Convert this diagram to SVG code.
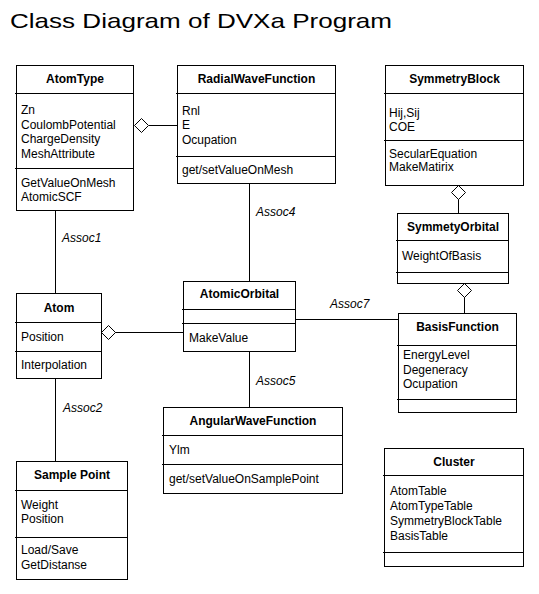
<svg xmlns="http://www.w3.org/2000/svg" width="539" height="594" viewBox="0 0 539 594">
<style>
.box{fill:#fff;stroke:#000;stroke-width:1}
.ln{stroke:#000;stroke-width:1;fill:none}
.dia{fill:#fff;stroke:#000;stroke-width:1}
text{font-family:"Liberation Sans",Arial,sans-serif;font-size:12px;fill:#000}
.h{font-weight:bold;text-anchor:middle}
.lbl{font-style:italic}
.title{font-size:21px}
</style>
<rect width="539" height="594" fill="#fff"/>
<text class="title" x="10" y="28" textLength="382" lengthAdjust="spacingAndGlyphs">Class Diagram of DVXa Program</text>

<g id="connectors">
<line class="ln" x1="55.5" y1="211" x2="55.5" y2="293"/>
<line class="ln" x1="55.5" y1="378" x2="55.5" y2="461"/>
<line class="ln" x1="249.5" y1="184" x2="249.5" y2="281"/>
<line class="ln" x1="249.5" y1="351" x2="249.5" y2="407"/>
<line class="ln" x1="149" y1="125.5" x2="177" y2="125.5"/>
<polygon class="dia" points="134.5,125.5 141.5,118.5 148.5,125.5 141.5,132.5"/>
<line class="ln" x1="115" y1="332.5" x2="183" y2="332.5"/>
<polygon class="dia" points="101.5,332.5 108.5,325.5 115.5,332.5 108.5,339.5"/>
<line class="ln" x1="295" y1="319.5" x2="399" y2="319.5"/>
<line class="ln" x1="458.5" y1="199" x2="458.5" y2="213"/>
<polygon class="dia" points="458.5,185.5 465.5,192.5 458.5,199.5 451.5,192.5"/>
<line class="ln" x1="464.5" y1="297" x2="464.5" y2="313"/>
<polygon class="dia" points="464.5,283.5 471.5,290.5 464.5,297.5 457.5,290.5"/>
<text class="lbl" x="62" y="242">Assoc1</text>
<text class="lbl" x="63" y="412">Assoc2</text>
<text class="lbl" x="256" y="216">Assoc4</text>
<text class="lbl" x="256" y="385">Assoc5</text>
<text class="lbl" x="330" y="308">Assoc7</text>
</g>

<g id="AtomType">
<rect class="box" x="16.5" y="65.5" width="117" height="145"/>
<line class="ln" x1="15" y1="93.5" x2="133.5" y2="93.5"/>
<line class="ln" x1="15" y1="168.5" x2="133.5" y2="168.5"/>
<text class="h" x="75" y="83">AtomType</text>
<text x="21" y="114">Zn</text>
<text x="21" y="128.5">CoulombPotential</text>
<text x="21" y="143">ChargeDensity</text>
<text x="21" y="157.5">MeshAttribute</text>
<text x="21" y="187">GetValueOnMesh</text>
<text x="21" y="201">AtomicSCF</text>
</g>

<g id="RadialWaveFunction">
<rect class="box" x="177.5" y="65.5" width="158" height="118"/>
<line class="ln" x1="176" y1="93.5" x2="335.5" y2="93.5"/>
<line class="ln" x1="176" y1="156.5" x2="335.5" y2="156.5"/>
<text class="h" x="256.5" y="83">RadialWaveFunction</text>
<text x="182" y="115">Rnl</text>
<text x="182" y="129">E</text>
<text x="182" y="143.5">Ocupation</text>
<text x="182" y="173.5">get/setValueOnMesh</text>
</g>

<g id="SymmetryBlock">
<rect class="box" x="385.5" y="65.5" width="138" height="120"/>
<line class="ln" x1="384" y1="93.5" x2="523.5" y2="93.5"/>
<line class="ln" x1="384" y1="140.5" x2="523.5" y2="140.5"/>
<text class="h" x="454.5" y="83">SymmetryBlock</text>
<text x="389" y="117">Hij,Sij</text>
<text x="389" y="130.5">COE</text>
<text x="389" y="157.5">SecularEquation</text>
<text x="389" y="171">MakeMatirix</text>
</g>

<g id="SymmetyOrbital">
<rect class="box" x="397.5" y="213.5" width="111" height="70"/>
<line class="ln" x1="396" y1="240.5" x2="508.5" y2="240.5"/>
<line class="ln" x1="396" y1="272.5" x2="508.5" y2="272.5"/>
<text class="h" x="453" y="231">SymmetyOrbital</text>
<text x="402" y="260">WeightOfBasis</text>
</g>

<g id="BasisFunction">
<rect class="box" x="398.5" y="313.5" width="118" height="99"/>
<line class="ln" x1="397" y1="345.5" x2="516.5" y2="345.5"/>
<line class="ln" x1="397" y1="399.5" x2="516.5" y2="399.5"/>
<text class="h" x="457.5" y="331">BasisFunction</text>
<text x="403" y="359">EnergyLevel</text>
<text x="403" y="373.5">Degeneracy</text>
<text x="403" y="388">Ocupation</text>
</g>

<g id="Atom">
<rect class="box" x="16.5" y="293.5" width="85" height="85"/>
<line class="ln" x1="15" y1="322.5" x2="101.5" y2="322.5"/>
<line class="ln" x1="15" y1="351.5" x2="101.5" y2="351.5"/>
<text class="h" x="59" y="312">Atom</text>
<text x="21" y="340.5">Position</text>
<text x="21" y="368.5">Interpolation</text>
</g>

<g id="AtomicOrbital">
<rect class="box" x="183.5" y="281.5" width="112" height="70"/>
<line class="ln" x1="182" y1="309.5" x2="295.5" y2="309.5"/>
<line class="ln" x1="182" y1="323.5" x2="295.5" y2="323.5"/>
<text class="h" x="239.5" y="298">AtomicOrbital</text>
<text x="189" y="342">MakeValue</text>
</g>

<g id="AngularWaveFunction">
<rect class="box" x="163.5" y="407.5" width="179" height="86"/>
<line class="ln" x1="162" y1="435.5" x2="342.5" y2="435.5"/>
<line class="ln" x1="162" y1="464.5" x2="342.5" y2="464.5"/>
<text class="h" x="253" y="425">AngularWaveFunction</text>
<text x="169" y="453.5">Ylm</text>
<text x="169" y="483">get/setValueOnSamplePoint</text>
</g>

<g id="SamplePoint">
<rect class="box" x="16.5" y="461.5" width="111" height="118"/>
<line class="ln" x1="15" y1="490.5" x2="127.5" y2="490.5"/>
<line class="ln" x1="15" y1="537.5" x2="127.5" y2="537.5"/>
<text class="h" x="72" y="479">Sample Point</text>
<text x="21" y="508.5">Weight</text>
<text x="21" y="523">Position</text>
<text x="21" y="554">Load/Save</text>
<text x="21" y="568.5">GetDistanse</text>
</g>

<g id="Cluster">
<rect class="box" x="384.5" y="448.5" width="139" height="118"/>
<line class="ln" x1="383" y1="475.5" x2="523.5" y2="475.5"/>
<line class="ln" x1="383" y1="552.5" x2="523.5" y2="552.5"/>
<text class="h" x="454" y="466">Cluster</text>
<text x="390" y="494.5">AtomTable</text>
<text x="390" y="509.5">AtomTypeTable</text>
<text x="390" y="524.5">SymmetryBlockTable</text>
<text x="390" y="540">BasisTable</text>
</g>
</svg>
